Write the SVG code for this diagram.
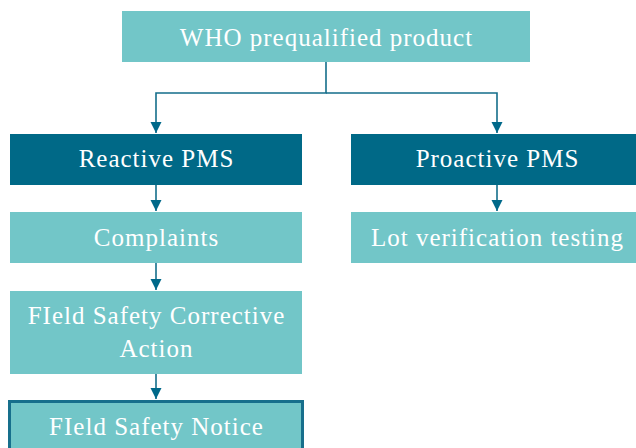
<svg xmlns="http://www.w3.org/2000/svg" width="636" height="448" viewBox="0 0 636 448">
<style>
.light{fill:#72c6c8}
.dark{fill:#006987}
.t{font-family:"Liberation Serif",serif;font-size:25px;fill:#ffffff;text-anchor:middle;letter-spacing:1px}
.c{fill:none;stroke:#146e8b;stroke-width:1.6}
</style>
<defs>
<marker id="arr" markerUnits="userSpaceOnUse" markerWidth="12" markerHeight="12" refX="11" refY="6" orient="auto">
<path d="M0,0.5 L11,6 L0,11.5 Z" fill="#00698a"/>
</marker>
</defs>
<rect width="636" height="448" fill="#ffffff"/>
<g id="connectors">
<path class="c" d="M326,62 V93 H156 V133" marker-end="url(#arr)"/>
<path class="c" d="M326,93 H497 V133" marker-end="url(#arr)"/>
<path class="c" d="M156,185 V211" marker-end="url(#arr)"/>
<path class="c" d="M156,263 V290" marker-end="url(#arr)"/>
<path class="c" d="M156,374 V399" marker-end="url(#arr)"/>
<path class="c" d="M497,185 V211" marker-end="url(#arr)"/>
</g>
<g id="who">
<rect class="light" x="122" y="11" width="408" height="51"/>
<text class="t" x="326.5" y="46">WHO prequalified product</text>
</g>
<g id="reactive">
<rect class="dark" x="10" y="134" width="292" height="51"/>
<text class="t" x="156.5" y="167">Reactive PMS</text>
</g>
<g id="proactive">
<rect class="dark" x="351" y="134" width="290" height="51"/>
<text class="t" x="497.5" y="167">Proactive PMS</text>
</g>
<g id="complaints">
<rect class="light" x="10" y="212" width="292" height="51"/>
<text class="t" x="156.5" y="246">Complaints</text>
</g>
<g id="lot">
<rect class="light" x="351" y="212" width="290" height="51"/>
<text class="t" x="497.5" y="246">Lot verification testing</text>
</g>
<g id="fsca">
<rect class="light" x="10" y="291" width="292" height="83"/>
<text class="t" x="156.5" y="324">FIeld Safety Corrective</text>
<text class="t" x="156.5" y="357">Action</text>
</g>
<g id="fsn">
<rect class="light" x="9.5" y="401.5" width="293" height="60" stroke="#176f8c" stroke-width="3"/>
<text class="t" x="156.5" y="435">FIeld Safety Notice</text>
</g>
</svg>
